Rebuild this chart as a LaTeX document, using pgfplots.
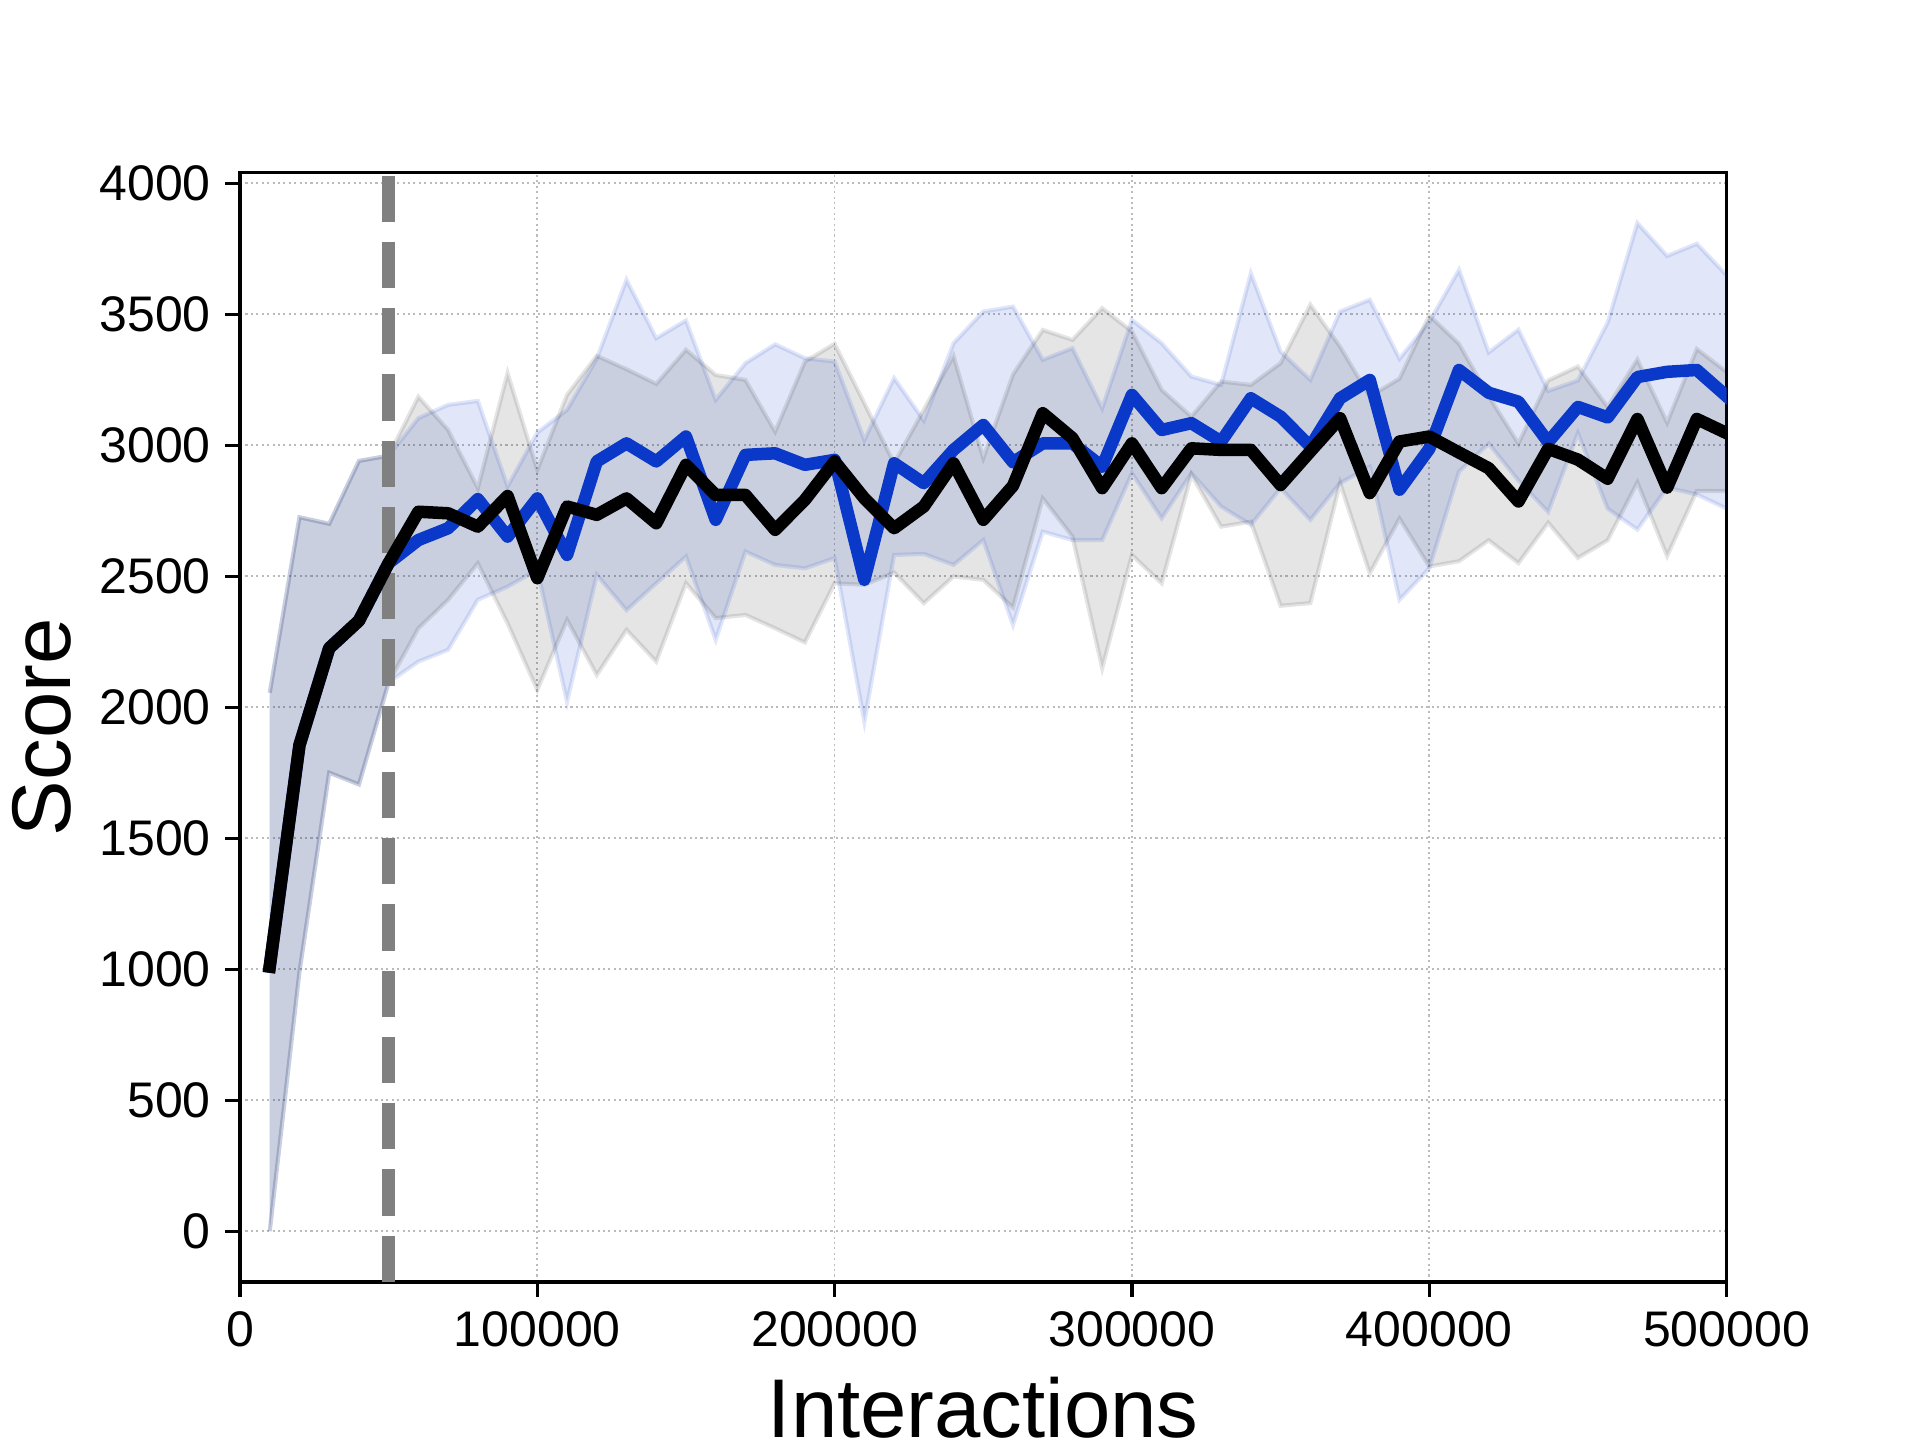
\documentclass[border=0pt]{standalone}
\usepackage{fontspec}
\setmainfont{Liberation Sans}
\usepackage{pgfplots}
\usepackage{pgfplotstable}
\pgfplotsset{compat=1.18}
\usepgfplotslibrary{fillbetween}
\definecolor{bluec}{RGB}{10,56,200}
\definecolor{gridc}{RGB}{187,187,187}

\pgfplotstableread{
x km gu gl bm bu bl
10000 1010 2055 0 1010 2055 0
20000 1855 2725 990 1855 2725 990
30000 2225 2700 1750 2225 2700 1750
40000 2330 2940 1705 2330 2940 1705
50000 2550 2960 2095 2550 2960 2095
60000 2746 3185 2301 2638 3103 2174
70000 2740 3058 2410 2683 3154 2219
80000 2689 2836 2549 2794 3169 2410
90000 2806 3275 2320 2651 2842 2460
100000 2492 2906 2066 2797 3048 2524
110000 2766 3192 2333 2581 3135 2021
120000 2734 3341 2123 2938 3330 2505
130000 2797 3290 2295 3007 3631 2370
140000 2702 3234 2174 2938 3408 2473
150000 2925 3364 2473 3033 3476 2575
160000 2810 3268 2340 2715 3173 2257
170000 2810 3249 2352 2963 3313 2594
180000 2677 3052 2301 2969 3385 2543
190000 2791 3319 2247 2925 3332 2530
200000 2938 3387 2473 2944 3319 2569
210000 2797 3160 2467 2486 3020 1945
220000 2683 2931 2514 2931 3256 2581
230000 2766 3135 2397 2855 3094 2585
240000 2931 3341 2499 2982 3389 2543
250000 2715 2950 2486 3077 3510 2638
260000 2845 3270 2380 2935 3529 2314
270000 3122 3440 2797 3007 3326 2670
280000 3027 3402 2651 3007 3370 2638
290000 2836 3523 2149 2918 3141 2638
300000 3007 3434 2581 3192 3478 2893
310000 2836 3211 2473 3058 3389 2721
320000 2988 3109 2887 3084 3262 2893
330000 2982 3243 2689 3014 3230 2766
340000 2982 3230 2708 3179 3656 2696
350000 2848 3313 2387 3109 3357 2836
360000 2976 3536 2397 2995 3249 2715
370000 3103 3376 2855 3179 3510 2855
380000 2817 3186 2511 3249 3555 2918
390000 3014 3254 2720 2830 3330 2410
400000 3033 3495 2537 2986 3470 2530
410000 2972 3387 2557 3287 3669 2899
420000 2912 3187 2637 3200 3354 3006
430000 2785 3006 2550 3166 3441 2865
440000 2986 3247 2704 3012 3207 2745
450000 2945 3300 2570 3146 3247 3046
460000 2872 3146 2637 3106 3468 2758
470000 3100 3327 2858 3260 3848 2678
480000 2838 3086 2577 3280 3722 2838
490000 3100 3367 2825 3287 3769 2812
500000 3046 3280 2825 3187 3649 2758
}\data

\begin{document}
\begin{tikzpicture}
\begin{axis}[
  scale only axis,
  width=356.78pt, height=266.23pt,
  xmin=0, xmax=500000, ymin=-194, ymax=4040,
  xtick={0,100000,200000,300000,400000,500000},
  xticklabels={0,100000,200000,300000,400000,500000},
  ytick={0,500,1000,1500,2000,2500,3000,3500,4000},
  yticklabels={0,500,1000,1500,2000,2500,3000,3500,4000},
  scaled ticks=false,
  /pgf/number format/assume math mode=true,
  tick pos=left,
  tick align=outside,
  major tick length=3.5pt,
  tick style={black, line width=0.8pt},
  axis line style={black, line width=0.8pt},
  tick label style={font=\fontsize{12}{14}\selectfont},
  grid=major,
  major grid style={gridc, line width=0.4pt, dash pattern=on 0.5pt off 0.8pt},
  xlabel={Interactions}, ylabel={Score},
  label style={font=\fontsize{20}{24}\selectfont},
  xlabel style={at={(axis description cs:0.5,-0.1406)}, anchor=base},
  ylabel style={at={(axis description cs:-0.1139,0.5)}, anchor=base},
]
% blue band
\addplot[name path=BU, draw=bluec, draw opacity=0.12, line width=1pt] table[x=x,y=bu]{\data};
\addplot[name path=BL, draw=bluec, draw opacity=0.12, line width=1pt] table[x=x,y=bl]{\data};
\addplot[fill=bluec, fill opacity=0.12, draw=none] fill between[of=BU and BL];
% gray band
\addplot[name path=GU, draw=black, draw opacity=0.1, line width=1pt] table[x=x,y=gu]{\data};
\addplot[name path=GL, draw=black, draw opacity=0.1, line width=1pt] table[x=x,y=gl]{\data};
\addplot[fill=black, fill opacity=0.1, draw=none] fill between[of=GU and GL];
% vertical dashed line
\addplot[color={rgb,255:red,128;green,128;blue,128}, line width=3pt, dash pattern=on 11.1pt off 4.8pt] coordinates {(50000,-194) (50000,4040)};
% mean lines
\addplot[bluec, line width=3pt, line join=round, line cap=rect] table[x=x,y=bm]{\data};
\addplot[black, line width=3pt, line join=round, line cap=rect] table[x=x,y=km]{\data};
\end{axis}
\pgfresetboundingbox
\path[use as bounding box] (-57.6pt,-37.92pt) rectangle (403.2pt,307.68pt);
\end{tikzpicture}
\end{document}
